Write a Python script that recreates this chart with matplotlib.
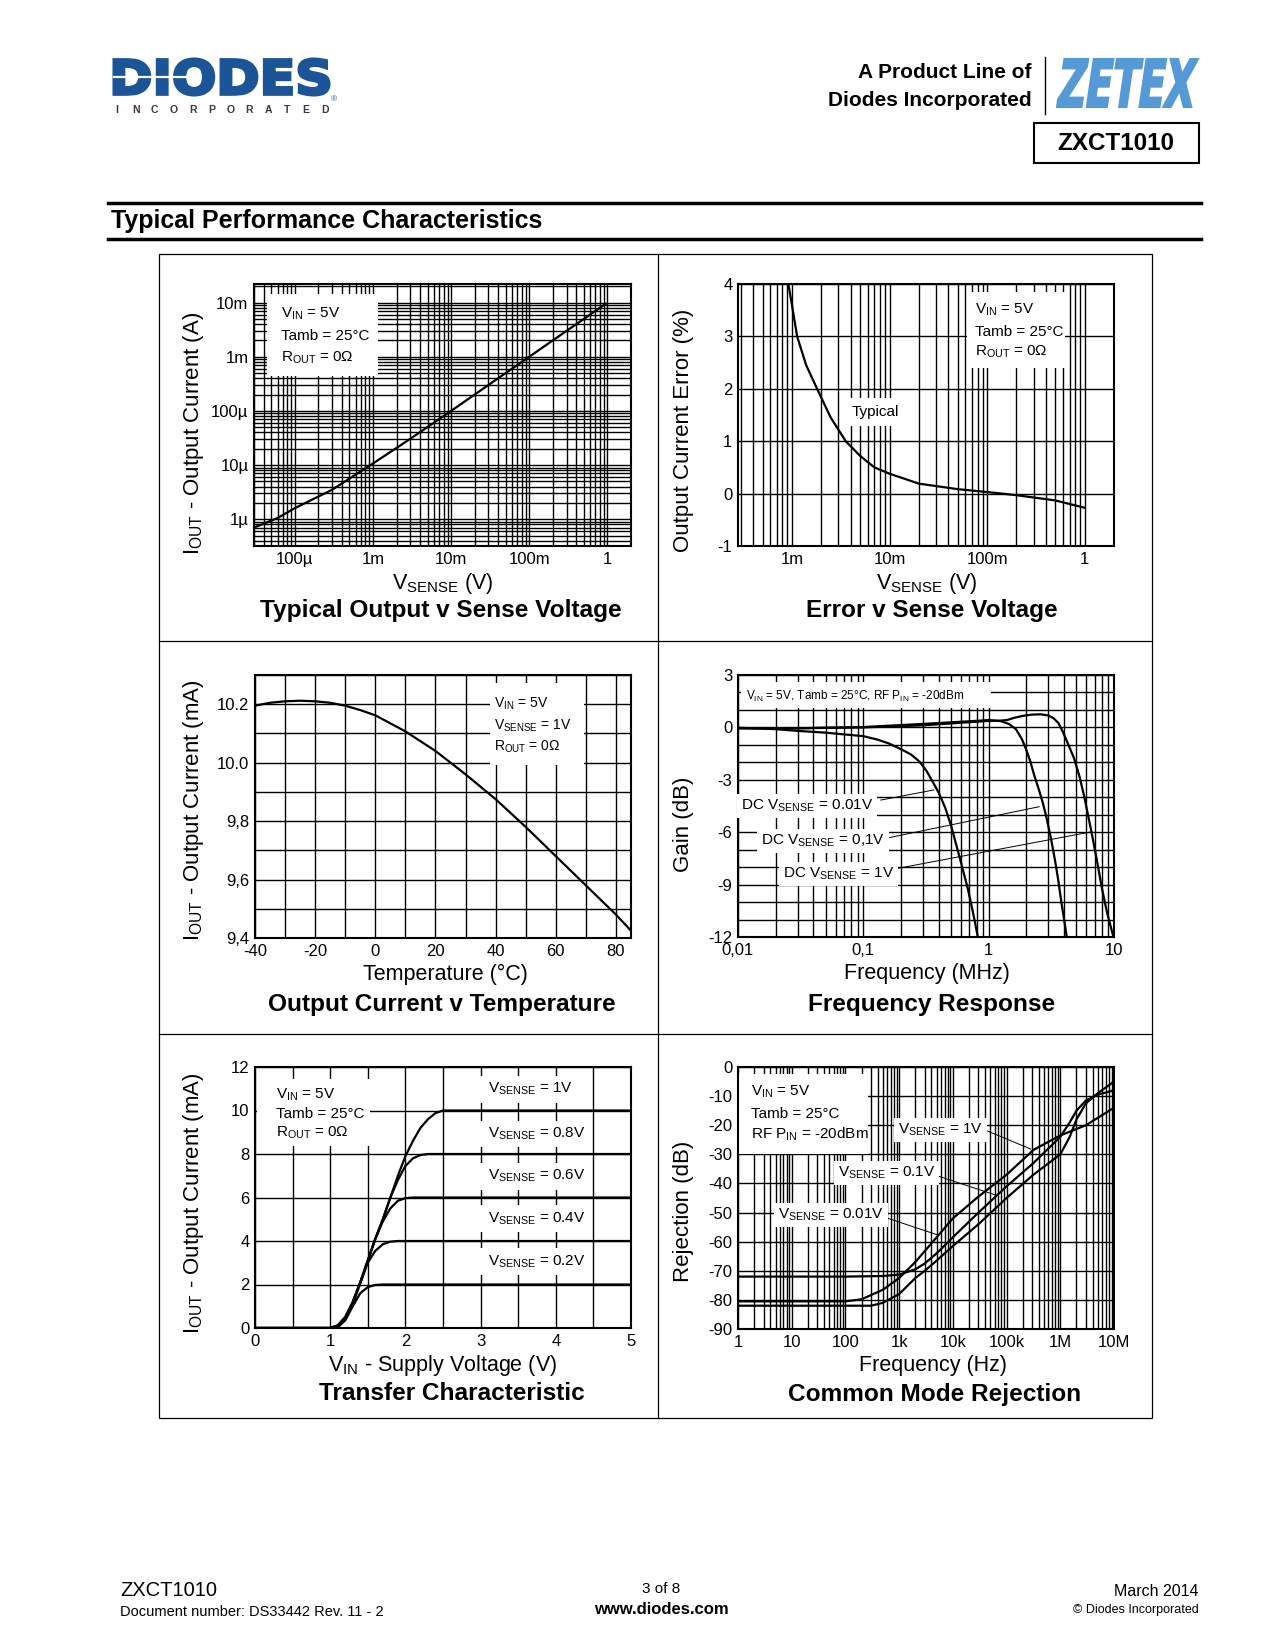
import numpy as np
import matplotlib
matplotlib.use("Agg")
import matplotlib.pyplot as plt
from matplotlib.patches import Rectangle, PathPatch
from matplotlib.textpath import TextPath
from matplotlib.font_manager import FontProperties
from matplotlib.transforms import Affine2D
from matplotlib.ticker import LogLocator, MultipleLocator, NullFormatter

plt.rcParams["font.family"] = ["Liberation Sans", "DejaVu Sans"]
plt.rcParams["mathtext.fontset"] = "custom"
plt.rcParams["mathtext.rm"] = "Liberation Sans"
plt.rcParams["mathtext.it"] = "Liberation Sans:italic"
plt.rcParams["mathtext.bf"] = "Liberation Sans:bold"

W, H = 1275, 1650

# --- Typical output v sense voltage
vsense_out = [3e-5, 6e-5, 1e-4, 3e-4, 1e-3, 3e-3, 1e-2, 3e-2, 0.1, 0.3, 0.95]
iout_out = [7e-7, 1.05e-6, 1.6e-6, 3.5e-6, 1.07e-5, 3.05e-5, 1.0e-4, 3.0e-4, 1.0e-3, 3.0e-3, 9.5e-3]
log_v_ticks = [1e-4, 1e-3, 1e-2, 1e-1, 1]
log_v_labels = ["100µ", "1m", "10m", "100m", "1"]
log_i_ticks = [1e-6, 1e-5, 1e-4, 1e-3, 1e-2]
log_i_labels = ["1µ", "10µ", "100µ", "1m", "10m"]

# --- Error v sense voltage
vsense_err = [9.2e-4, 1.0e-3, 1.13e-3, 1.4e-3, 1.81e-3, 2.5e-3, 3.56e-3, 5e-3, 7e-3, 1e-2,
              2e-2, 5e-2, 0.1, 0.2, 0.5, 1.0]
err_pct = [4.0, 3.6, 3.0, 2.45, 2.0, 1.45, 1.0, 0.72, 0.5, 0.38, 0.19, 0.085, 0.03, -0.03,
           -0.13, -0.27]

# --- Output current v temperature
temp_c = [-40, -35, -30, -25, -20, -15, -10, -5, 0, 10, 20, 30, 40, 50, 60, 70, 80, 85]
iout_temp = [10.195, 10.205, 10.21, 10.212, 10.21, 10.205, 10.195, 10.18, 10.162, 10.107,
             10.04, 9.96, 9.875, 9.78, 9.68, 9.58, 9.48, 9.425]
temp_ticks = [-40, -20, 0, 20, 40, 60, 80]
itemp_ticks = [9.4, 9.6, 9.8, 10.0, 10.2]
itemp_labels = ["9,4", "9,6", "9,8", "10.0", "10.2"]

# --- Frequency response (MHz, dB)
f_001 = [0.01, 0.02, 0.03, 0.05, 0.07, 0.1, 0.13, 0.16, 0.2, 0.24, 0.28, 0.32, 0.36, 0.4,
         0.45, 0.5, 0.56, 0.62, 0.68, 0.75, 0.82]
g_001 = [-0.02, -0.1, -0.2, -0.3, -0.4, -0.5, -0.7, -0.92, -1.25, -1.55, -1.95, -2.5, -3.15,
         -3.75, -4.6, -5.6, -6.9, -8.1, -9.2, -10.6, -12.0]
f_01 = [0.01, 0.03, 0.1, 0.3, 0.7, 1.0, 1.25, 1.45, 1.65, 1.85, 2.0, 2.15, 2.3, 2.5, 2.7,
        2.9, 3.15, 3.4, 3.6, 3.8, 4.0, 4.2]
g_01 = [-0.05, -0.05, 0.02, 0.2, 0.35, 0.42, 0.36, 0.2, -0.1, -0.7, -1.3, -1.95, -2.7, -3.5,
        -4.3, -5.2, -6.4, -7.7, -8.8, -10.0, -11.0, -12.0]
f_1 = [0.01, 0.03, 0.1, 0.3, 0.7, 1.0, 1.2, 1.4, 1.6, 1.9, 2.2, 2.6, 3.0, 3.3, 3.6, 3.9,
       4.3, 4.8, 5.3, 5.75, 6.2, 6.7, 7.3, 8.0, 8.8, 9.9]
g_1 = [-0.05, -0.05, 0.0, 0.12, 0.3, 0.37, 0.38, 0.42, 0.55, 0.67, 0.73, 0.75, 0.68, 0.52,
       0.25, -0.24, -0.95, -1.77, -2.8, -3.87, -5.0, -6.2, -7.6, -9.2, -10.6, -12.0]
fr_xticks = [0.01, 0.1, 1, 10]
fr_xlabels = ["0,01", "0,1", "1", "10"]
fr_yticks = [-12, -9, -6, -3, 0, 3]

# --- Transfer characteristic
vin = [0, 1.0, 1.1, 1.2, 1.3, 1.4, 1.5, 1.6, 1.7, 1.8, 1.9, 2.0, 2.1, 2.2, 2.3, 2.4, 2.5, 5.0]
i_1v = [0, 0, 0.12, 0.5, 1.2, 2.1, 3.1, 4.1, 5.0, 6.0, 7.0, 7.9, 8.6, 9.2, 9.6, 9.88, 10.0, 10.0]
i_08v = [0, 0, 0.12, 0.5, 1.2, 2.1, 3.1, 4.1, 5.0, 6.0, 6.8, 7.45, 7.8, 7.95, 8.0, 8.0, 8.0, 8.0]
i_06v = [0, 0, 0.1, 0.45, 1.15, 2.1, 3.1, 4.1, 4.9, 5.5, 5.85, 5.97, 6.0, 6.0, 6.0, 6.0, 6.0, 6.0]
i_04v = [0, 0, 0.08, 0.4, 1.1, 2.05, 3.0, 3.55, 3.85, 3.97, 4.0, 4.0, 4.0, 4.0, 4.0, 4.0, 4.0, 4.0]
i_02v = [0, 0, 0.03, 0.35, 1.0, 1.6, 1.88, 1.98, 2.0, 2.0, 2.0, 2.0, 2.0, 2.0, 2.0, 2.0, 2.0, 2.0]
transfer_names = ["1V", "0.8V", "0.6V", "0.4V", "0.2V"]
transfer_label_y = [10.98, 8.92, 6.98, 5.03, 3.05]

# --- Common mode rejection (Hz, dB)
f_cmr_a = [1, 100, 500, 1e3, 2e3, 3e3, 5e3, 1e4, 3e4, 1e5, 3.16e5, 1e6, 1.5e6, 2e6, 3e6, 5e6, 1e7]
r_cmr_a = [-72, -72, -71.8, -71.3, -69.5, -67.5, -64, -58.5, -50, -41, -33, -24, -19, -15, -11.5, -9.5, -8]
f_cmr_b = [1, 100, 200, 500, 1e3, 2e3, 5e3, 1e4, 3e4, 1e5, 3.16e5, 1e6, 3e6, 1e7]
r_cmr_b = [-80.5, -80.5, -79.8, -76.5, -72.5, -67, -58.5, -52, -44.5, -37, -28.5, -23.5, -20, -14]
f_cmr_c = [1, 300, 500, 1e3, 2e3, 3e3, 5e3, 1e4, 3e4, 1e5, 3.16e5, 1e6, 1.5e6, 2e6, 3e6, 5e6, 1e7]
r_cmr_c = [-82, -82, -81, -78, -72.5, -70, -66.5, -61.5, -54, -45, -37, -30, -24, -18, -12.5, -9, -5]
cmr_xticks = [1, 10, 100, 1e3, 1e4, 1e5, 1e6, 1e7]
cmr_xlabels = ["1", "10", "100", "1k", "10k", "100k", "1M", "10M"]
cmr_yticks = [0, -10, -20, -30, -40, -50, -60, -70, -80, -90]


fig = plt.figure(figsize=(12.75, 16.5), dpi=100)
bg = fig.add_axes([0, 0, 1, 1])
bg.set_xlim(0, W)
bg.set_ylim(H, 0)
bg.axis("off")


def word(s, x0, y0, x1, y1, color, skew=0.0, stroke=0.0, family="DejaVu Sans"):
    tp = TextPath((0, 0), s, size=100, prop=FontProperties(family=family, weight="bold"))
    tr = Affine2D().skew_deg(skew, 0)
    path = tr.transform_path(tp)
    bb = path.get_extents()
    tr = (Affine2D().translate(-bb.x0, -bb.y0)
          .scale((x1 - x0) / bb.width, -(y1 - y0) / bb.height)
          .translate(x0, y1))
    bg.add_patch(PathPatch(tr.transform_path(path), fc=color, ec=color, lw=stroke,
                           joinstyle="miter"))


# header
word("DIODES", 114, 59, 329, 95, "#1b5597", stroke=2.2)
bg.plot([114, 188], [77, 77], color="white", lw=1.6)
for k, ch in enumerate("INCORPORATED"):
    bg.text(117 + k * 18.9, 110, ch, fontsize=7.5, fontweight="bold", color="#3a3a3a",
            ha="center", va="center")
bg.text(334, 100, "®", fontsize=6, color="#1b5597", ha="center", va="center")

bg.text(1032, 73, "A Product Line of", fontsize=15, fontweight="bold", ha="right", va="center")
bg.text(1032, 100, "Diodes Incorporated", fontsize=15, fontweight="bold", ha="right", va="center")
bg.plot([1045, 1045], [57, 114], color="k", lw=1)
word("ZETEX", 1057, 59, 1198, 107, "#5599d6", skew=14, stroke=1.5)
bg.add_patch(Rectangle((1034, 123), 165, 40, fc="none", ec="k", lw=1.5))
bg.text(1116, 143, "ZXCT1010", fontsize=17.5, fontweight="bold", ha="center", va="center")

bg.plot([108, 1201], [203, 203], color="k", lw=2.5)
bg.text(111, 221, "Typical Performance Characteristics", fontsize=18, fontweight="bold",
        ha="left", va="center")
bg.plot([108, 1201], [239, 239], color="k", lw=2.5)

# panel frame
bg.add_patch(Rectangle((159, 254), 993, 1164, fc="none", ec="k", lw=0.9))
bg.plot([658, 658], [254, 1418], color="k", lw=0.9)
bg.plot([159, 1152], [641, 641], color="k", lw=0.9)
bg.plot([159, 1152], [1034, 1034], color="k", lw=0.9)

# footer
bg.text(120, 1591, "ZXCT1010", fontsize=14.5, ha="left", va="center")
bg.text(120, 1612, "Document number: DS33442 Rev. 11 - 2", fontsize=10.5, ha="left", va="center")
bg.text(661, 1589, "3 of 8", fontsize=11, ha="center", va="center")
bg.text(661, 1610, "www.diodes.com", fontsize=12, fontweight="bold", ha="center", va="center")
bg.text(1199, 1591, "March 2014", fontsize=11.5, ha="right", va="center")
bg.text(1199, 1610, "© Diodes Incorporated", fontsize=9, ha="right", va="center")


def panel(l, t, r, b):
    ax = fig.add_axes([l / W, 1 - b / H, (r - l) / W, (b - t) / H])
    ax.set_axisbelow(True)
    ax.tick_params(which="both", length=0, labelsize=12)
    ax.tick_params(axis="x", pad=4)
    ax.tick_params(axis="y", pad=4)
    for sp in ax.spines.values():
        sp.set_linewidth(1.5)
    return ax


def log_axis(axis):
    axis.set_minor_locator(LogLocator(10, subs=np.arange(2, 10), numticks=100))
    axis.set_minor_formatter(NullFormatter())


def labels(xc, ylab, ylab_y, xlab, xlab_y, title, title_x, title_y, ylab_x):
    bg.text(ylab_x, ylab_y, ylab, fontsize=16, rotation=90, ha="center", va="center")
    bg.text(xc, xlab_y, xlab, fontsize=15.5, ha="center", va="center")
    bg.text(title_x, title_y, title, fontsize=17.6, fontweight="bold", ha="center", va="center")


def box(ax, x0, y0, x1, y1):
    ax.add_patch(Rectangle((x0, y0), x1 - x0, y1 - y0, transform=ax.transAxes,
                           fc="white", ec="none", zorder=2))


def legend_lines(ax, x, ys, lines, size=11):
    for y, s in zip(ys, lines):
        ax.text(x, y, s, transform=ax.transAxes, fontsize=size, ha="left", va="center", zorder=4)


grid_kw = dict(color="k", lw=1.0)
curve_kw = dict(color="k", lw=1.6, zorder=3)
cond3 = [r"$\mathrm{V_{IN}}$ = 5V", "Tamb = 25°C", r"$\mathrm{R_{OUT}}$ = 0Ω"]

# 1. Typical output v sense voltage
ax = panel(254, 284, 631, 546)
ax.set_xscale("log")
ax.set_yscale("log")
ax.set_xlim(3e-5, 2)
ax.set_ylim(3.2e-7, 2.2e-2)
log_axis(ax.xaxis)
log_axis(ax.yaxis)
ax.set_xticks(log_v_ticks, log_v_labels)
ax.set_yticks(log_i_ticks, log_i_labels)
ax.grid(True, which="both", **grid_kw)
ax.plot(vsense_out, iout_out, **curve_kw)
box(ax, 0.034, 0.65, 0.329, 0.962)
legend_lines(ax, 0.072, [0.886, 0.80, 0.72], cond3)
labels(443, r"$\mathrm{I_{OUT}}$ - Output Current (A)", 433, r"$\mathrm{V_{SENSE}}$ (V)", 583,
       "Typical Output v Sense Voltage", 441, 611, 193)

# 2. Error v sense voltage
ax = panel(738, 284, 1114, 546)
ax.set_xscale("log")
ax.set_xlim(2.8e-4, 2)
ax.set_ylim(-1, 4)
log_axis(ax.xaxis)
ax.set_xticks([1e-3, 1e-2, 1e-1, 1], ["1m", "10m", "100m", "1"])
ax.set_yticks([-1, 0, 1, 2, 3, 4], ["-1", "0", "1", "2", "3", "4"])
ax.grid(True, which="both", axis="x", **grid_kw)
ax.grid(True, which="major", axis="y", **grid_kw)
ax.plot(vsense_err, err_pct, **curve_kw)
box(ax, 0.608, 0.678, 0.87, 0.971)
legend_lines(ax, 0.63, [0.90, 0.817, 0.74], cond3)
box(ax, 0.293, 0.458, 0.436, 0.565)
ax.text(0.364, 0.51, "Typical", transform=ax.transAxes, fontsize=11, ha="center",
        va="center", zorder=4)
labels(927, "Output Current Error (%)", 430, r"$\mathrm{V_{SENSE}}$ (V)", 583,
       "Error v Sense Voltage", 932, 611, 683)

# 3. Output current v temperature
ax = panel(255, 675, 631, 938)
ax.set_xlim(-40, 85)
ax.set_ylim(9.4, 10.3)
ax.set_xticks(temp_ticks, [str(t) for t in temp_ticks])
ax.set_yticks(itemp_ticks, itemp_labels)
ax.xaxis.set_minor_locator(MultipleLocator(10))
ax.yaxis.set_minor_locator(MultipleLocator(0.1))
ax.grid(True, which="both", **grid_kw)
ax.plot(temp_c, iout_temp, **curve_kw)
box(ax, 0.625, 0.658, 0.875, 0.968)
legend_lines(ax, 0.636, [0.89, 0.806, 0.726],
             [r"$\mathrm{V_{IN}}$ = 5V", r"$\mathrm{V_{SENSE}}$ = 1V", r"$\mathrm{R_{OUT}}$ = 0Ω"],
             size=10)
labels(445, r"$\mathrm{I_{OUT}}$ - Output Current (mA)", 810, "Temperature (°C)", 974,
       "Output Current v Temperature", 442, 1004, 193)

# 4. Frequency response
ax = panel(738, 675, 1114, 937)
ax.set_xscale("log")
ax.set_xlim(0.01, 10)
ax.set_ylim(-12, 3)
log_axis(ax.xaxis)
ax.set_xticks(fr_xticks, fr_xlabels)
ax.set_yticks(fr_yticks, [str(v) for v in fr_yticks])
ax.yaxis.set_minor_locator(MultipleLocator(1))
ax.grid(True, which="both", **grid_kw)
ax.plot(f_001, g_001, **curve_kw)
ax.plot(f_01, g_01, **curve_kw)
ax.plot(f_1, g_1, **curve_kw)
box(ax, 0.009, 0.873, 0.672, 0.972)
ax.text(0.02, 0.92, r"$\mathrm{V_{IN}}$ = 5V, Tamb = 25°C, RF $\mathrm{P_{IN}}$ = -20dBm",
        transform=ax.transAxes, fontsize=8.5, ha="left", va="center", zorder=4)
bb = dict(boxstyle="square,pad=0.25", fc="white", ec="none")
ax.plot([0.138, 0.366], [-4.16, -3.58], color="k", lw=0.7, zorder=3)
ax.plot([0.161, 2.53], [-6.31, -4.54], color="k", lw=0.7, zorder=3)
ax.plot([0.188, 6.7], [-8.07, -5.97], color="k", lw=0.7, zorder=3)
ax.text(0.0106, -4.48, r"DC $\mathrm{V_{SENSE}}$ = 0.01V", fontsize=11, ha="left",
        va="center", bbox=bb, zorder=4)
ax.text(0.0153, -6.48, r"DC $\mathrm{V_{SENSE}}$ = 0,1V", fontsize=11, ha="left",
        va="center", bbox=bb, zorder=4)
ax.text(0.0228, -8.41, r"DC $\mathrm{V_{SENSE}}$ = 1V", fontsize=11, ha="left",
        va="center", bbox=bb, zorder=4)
labels(927, "Gain (dB)", 824, "Frequency (MHz)", 974, "Frequency Response", 932, 1004, 683)

# 5. Transfer characteristic
ax = panel(255, 1067, 631, 1328)
ax.set_xlim(0, 5)
ax.set_ylim(0, 12)
ax.set_xticks(range(6), [str(v) for v in range(6)])
ax.set_yticks(range(0, 13, 2), [str(v) for v in range(0, 13, 2)])
ax.xaxis.set_minor_locator(MultipleLocator(0.5))
ax.grid(True, which="both", axis="x", **grid_kw)
ax.grid(True, which="major", axis="y", **grid_kw)
for ys in (i_1v, i_08v, i_06v, i_04v, i_02v):
    ax.plot(vin, ys, **curve_kw)
box(ax, 0.005, 0.698, 0.306, 0.953)
legend_lines(ax, 0.056, [0.893, 0.82, 0.747], cond3)
for name, y in zip(transfer_names, transfer_label_y):
    ax.add_patch(Rectangle((2.98, y - 0.62), 1.47, 1.24, fc="white", ec="none", zorder=2))
    ax.text(3.1, y, r"$\mathrm{V_{SENSE}}$ = " + name, fontsize=11, ha="left",
            va="center", zorder=4)
labels(443, r"$\mathrm{I_{OUT}}$ - Output Current (mA)", 1203,
       r"$\mathrm{V_{IN}}$ - Supply Voltage (V)", 1366, "Transfer Characteristic", 452, 1394, 193)

# 6. Common mode rejection
ax = panel(738, 1067, 1114, 1329)
ax.set_xscale("log")
ax.set_xlim(1, 1e7)
ax.set_ylim(-90, 0)
log_axis(ax.xaxis)
ax.set_xticks(cmr_xticks, cmr_xlabels)
ax.set_yticks(cmr_yticks, [str(v) for v in cmr_yticks])
ax.grid(True, which="both", axis="x", **grid_kw)
ax.grid(True, which="major", axis="y", **grid_kw)
ax.plot(f_cmr_a, r_cmr_a, **curve_kw)
ax.plot(f_cmr_b, r_cmr_b, **curve_kw)
ax.plot(f_cmr_c, r_cmr_c, **curve_kw)
box(ax, 0.0, 0.667, 0.346, 0.975)
legend_lines(ax, 0.035, [0.905, 0.82, 0.744],
             [r"$\mathrm{V_{IN}}$ = 5V", "Tamb = 25°C", r"RF $\mathrm{P_{IN}}$ = -20dBm"])
ax.plot([10 ** 4.556, 10 ** 5.45], [-21.3, -28.2], color="k", lw=0.7, zorder=3)
ax.plot([10 ** 3.55, 10 ** 4.80], [-36.4, -44.0], color="k", lw=0.7, zorder=3)
ax.plot([10 ** 2.55, 10 ** 3.72], [-50.5, -57.7], color="k", lw=0.7, zorder=3)
ax.text(0.426, 0.76, r"$\mathrm{V_{SENSE}}$ = 1V", transform=ax.transAxes, fontsize=11,
        ha="left", va="center", bbox=bb, zorder=4)
ax.text(0.266, 0.595, r"$\mathrm{V_{SENSE}}$ = 0.1V", transform=ax.transAxes, fontsize=11,
        ha="left", va="center", bbox=bb, zorder=4)
ax.text(0.106, 0.435, r"$\mathrm{V_{SENSE}}$ = 0.01V", transform=ax.transAxes, fontsize=11,
        ha="left", va="center", bbox=bb, zorder=4)
labels(933, "Rejection (dB)", 1211, "Frequency (Hz)", 1366, "Common Mode Rejection", 935, 1394, 683)

fig.savefig("out.png", dpi=100)
